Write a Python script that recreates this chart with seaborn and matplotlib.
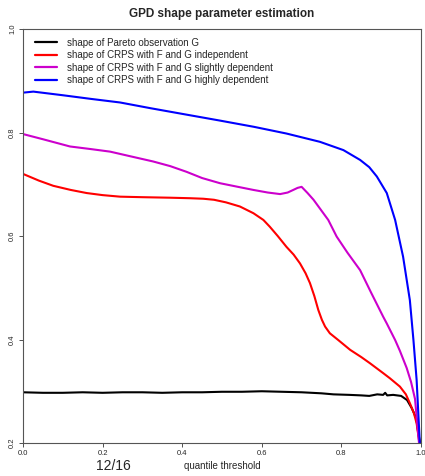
import numpy as np
import pandas as pd
import matplotlib
matplotlib.use("Agg")
import matplotlib.pyplot as plt
import seaborn as sns

# ---- data ----
labels = ["shape of Pareto observation G",
          "shape of CRPS with F and G independent",
          "shape of CRPS with F and G slightly dependent",
          "shape of CRPS with F and G highly dependent"]
colors = ["black", "#ff0000", "#cc00cc", "#0000ff"]

x_black = [0, 0.05, 0.1, 0.15, 0.2, 0.25, 0.3, 0.35, 0.4, 0.45, 0.5, 0.55, 0.6,
           0.65, 0.7, 0.75, 0.78, 0.82, 0.85, 0.87, 0.89, 0.905, 0.91, 0.915,
           0.93, 0.95, 0.965, 0.977, 0.988, 0.994, 0.998]
y_black = [0.298, 0.297, 0.297, 0.298, 0.297, 0.298, 0.298, 0.297, 0.298, 0.298,
           0.299, 0.299, 0.300, 0.299, 0.298, 0.296, 0.294, 0.293, 0.292, 0.291,
           0.294, 0.293, 0.297, 0.292, 0.293, 0.291, 0.283, 0.267, 0.248, 0.215, 0.2]

x_red = [0, 0.04, 0.076, 0.12, 0.16, 0.2, 0.244, 0.3, 0.369, 0.42, 0.453, 0.48,
         0.51, 0.545, 0.579, 0.604, 0.62, 0.64, 0.662, 0.68, 0.696, 0.71, 0.721,
         0.732, 0.742, 0.751, 0.759, 0.771, 0.792, 0.822, 0.85, 0.872, 0.905,
         0.922, 0.947, 0.962, 0.972, 0.982, 0.989, 0.996]
y_red = [0.720, 0.707, 0.697, 0.689, 0.683, 0.679, 0.676, 0.675, 0.674, 0.673,
         0.672, 0.670, 0.665, 0.657, 0.644, 0.631, 0.618, 0.600, 0.579, 0.564,
         0.547, 0.528, 0.509, 0.484, 0.457, 0.438, 0.425, 0.412, 0.399, 0.380,
         0.366, 0.354, 0.335, 0.325, 0.309, 0.294, 0.277, 0.258, 0.238, 0.2]

x_mag = [0, 0.05, 0.118, 0.17, 0.219, 0.27, 0.327, 0.37, 0.411, 0.45, 0.495, 0.54,
         0.579, 0.615, 0.646, 0.665, 0.679, 0.69, 0.70, 0.715, 0.73, 0.767, 0.788,
         0.815, 0.847, 0.875, 0.905, 0.914, 0.935, 0.947, 0.964, 0.975, 0.985, 0.995]
y_mag = [0.797, 0.787, 0.773, 0.768, 0.763, 0.754, 0.744, 0.735, 0.724, 0.712,
         0.702, 0.695, 0.689, 0.684, 0.681, 0.684, 0.689, 0.693, 0.695, 0.683,
         0.670, 0.631, 0.599, 0.568, 0.534, 0.490, 0.444, 0.431, 0.399, 0.378,
         0.345, 0.318, 0.285, 0.2]

x_blue = [0, 0.026, 0.1, 0.17, 0.244, 0.32, 0.4, 0.495, 0.58, 0.662, 0.746, 0.805,
          0.847, 0.87, 0.889, 0.914, 0.935, 0.955, 0.972, 0.981, 0.989, 0.997]
y_blue = [0.877, 0.879, 0.872, 0.865, 0.858, 0.847, 0.836, 0.823, 0.811, 0.798,
          0.782, 0.766, 0.747, 0.733, 0.715, 0.683, 0.631, 0.560, 0.476, 0.399,
          0.322, 0.2]

xticks = [0.0, 0.2, 0.4, 0.6, 0.8, 1.0]
yticks = [0.2, 0.4, 0.6, 0.8, 1.0]

frames = []
for lab, xs, ys in zip(labels, [x_black, x_red, x_mag, x_blue],
                       [y_black, y_red, y_mag, y_blue]):
    frames.append(pd.DataFrame({"x": xs, "y": ys, "series": lab}))
df = pd.concat(frames, ignore_index=True)

sns.set_style("white")
plt.rcParams['font.family'] = ['Liberation Sans', 'DejaVu Sans']

fig = plt.figure(figsize=(4.25, 4.76), dpi=100)
ax = fig.add_axes([23/425, 33/476, 398/425, 414/476])

sns.lineplot(data=df, x="x", y="y", hue="series", hue_order=labels,
             palette=dict(zip(labels, colors)), estimator=None, sort=False,
             linewidth=1.5, ax=ax)

ax.set_xlim(0, 1)
ax.set_ylim(0.2, 1.0)
ax.set_xticks(xticks)
ax.set_xticklabels([f"{t:.1f}" for t in xticks], fontsize=5.5)
ax.set_yticks(yticks)
ax.set_yticklabels([f"{t:.1f}" for t in yticks], fontsize=5.5, rotation=90, va="center")
ax.tick_params(axis="both", length=3, width=0.6, color="#333333", pad=2,
               direction="out", left=True, bottom=True)
for s in ax.spines.values():
    s.set_color("#555555")
    s.set_linewidth(0.8)

ax.set_xlabel("quantile threshold", fontsize=7, labelpad=3)
ax.set_ylabel("")
ax.set_title("GPD shape parameter estimation", fontsize=8.5, fontweight="bold", pad=9)

leg = ax.legend(loc="upper left", frameon=False, fontsize=7, handlelength=2.3,
                labelspacing=0.25, borderaxespad=0.3, bbox_to_anchor=(0.012, 0.995),
                handletextpad=1.0)
for line in leg.get_lines():
    line.set_linewidth(1.6)

fig.text(113/425, 1 - 466/476, "12/16", fontsize=10, ha="center", va="center")

fig.savefig("out.png", dpi=100)
